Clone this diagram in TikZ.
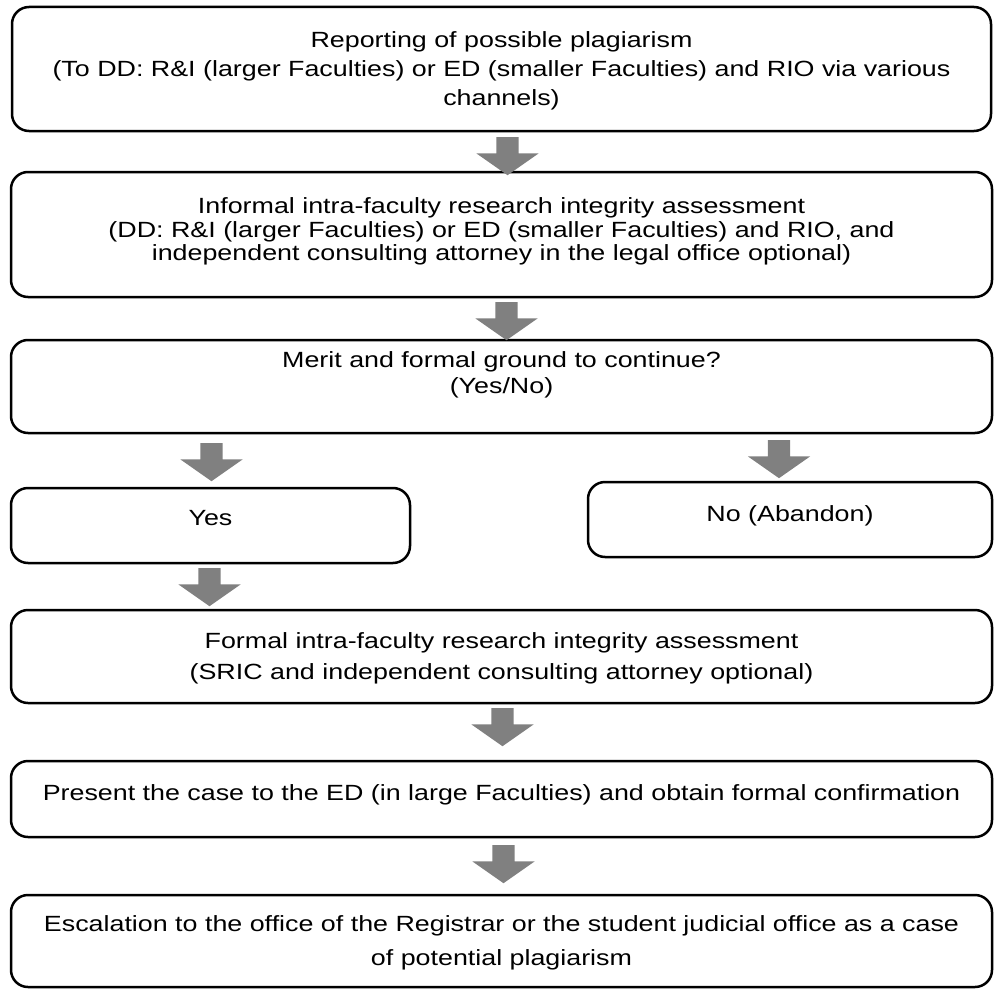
\documentclass[tikz,border=0pt]{standalone}
\usepackage{fontspec}
\setmainfont{Liberation Sans}[FakeStretch=1.22]
\usetikzlibrary{positioning}
\usetikzlibrary{shapes.arrows}
\tikzstyle{box}=[draw=black, line width=2.5pt, rounded corners=17pt, align=center,
                 minimum width=981pt, inner sep=0pt, outer sep=0pt]
\tikzset{
bigarrow/.style = {single arrow, fill=gray, draw=none, inner xsep=11pt, inner ysep=0pt,
                   minimum height=38pt, minimum width=62pt,
                   single arrow head extend=20pt, single arrow tip angle=110,
                   shape border rotate=270, anchor=tail},
lines/.style = {font=\fontsize{22}{#1}\selectfont},
lines/.default = 27
}
\begin{document}
\begin{tikzpicture}
\useasboundingbox (0,0) rectangle (996pt,-990pt);

\node[box, lines=29, minimum width=979pt, minimum height=124pt, text depth=-6pt] (report) at (501.5pt,-69pt)
  {Reporting of possible plagiarism\\
   (To DD: R\&I (larger Faculties) or ED (smaller Faculties) and RIO via various\\
   channels)};
\node[box, lines=23.5, minimum height=125pt, text depth=10pt, below=41pt of report] (informal)
  {Informal intra-faculty research integrity assessment\\
   (DD: R\&I (larger Faculties) or ED (smaller Faculties) and RIO, and\\
   independent consulting attorney in the legal office optional)};
\node[box, lines=26, minimum height=93pt, text depth=28pt, below=43pt of informal] (merit)
  {Merit and formal ground to continue?\\(Yes/No)};

% the two outcomes
\node[box, lines, minimum width=399pt, minimum height=75pt, text depth=15pt, anchor=north west]
  (yes) at ([yshift=-55pt]merit.south west) {Yes};
\node[box, lines, minimum width=404pt, minimum height=75pt, text depth=12pt, anchor=north east]
  (no) at ([yshift=-49pt]merit.south east) {No (Abandon)};

\node[box, lines=31, minimum height=93pt, text depth=-7pt, anchor=north] (formal) at ([yshift=-47pt]yes.south -| merit.south)
  {Formal intra-faculty research integrity assessment\\
   (SRIC and independent consulting attorney optional)};
\node[box, lines, minimum height=76pt, text depth=13pt, below=58pt of formal] (present)
  {Present the case to the ED (in large Faculties) and obtain formal confirmation};
\node[box, lines=34, minimum height=92pt, text depth=-6pt, below=58pt of present] (escalate)
  {Escalation to the office of the Registrar or the student judicial office as a case\\
   of potential plagiarism};

% block arrows
\node[bigarrow] (a1) at ([xshift=6pt,yshift=-6pt]report.south) {};
\node[bigarrow] (a2) at ([xshift=5pt,yshift=-5pt]informal.south) {};
\node[bigarrow] (a3) at ([xshift=1pt,yshift=-10pt]merit.south -| yes.north) {};
\node[bigarrow] (a4) at ([xshift=-11pt,yshift=-7pt]merit.south -| no.north) {};
\node[bigarrow] (a5) at ([xshift=-1pt,yshift=-5pt]yes.south) {};
\node[bigarrow] (a6) at ([xshift=1pt,yshift=-5pt]formal.south) {};
\node[bigarrow] (a7) at ([xshift=2pt,yshift=-8pt]present.south) {};
\end{tikzpicture}
\end{document}
